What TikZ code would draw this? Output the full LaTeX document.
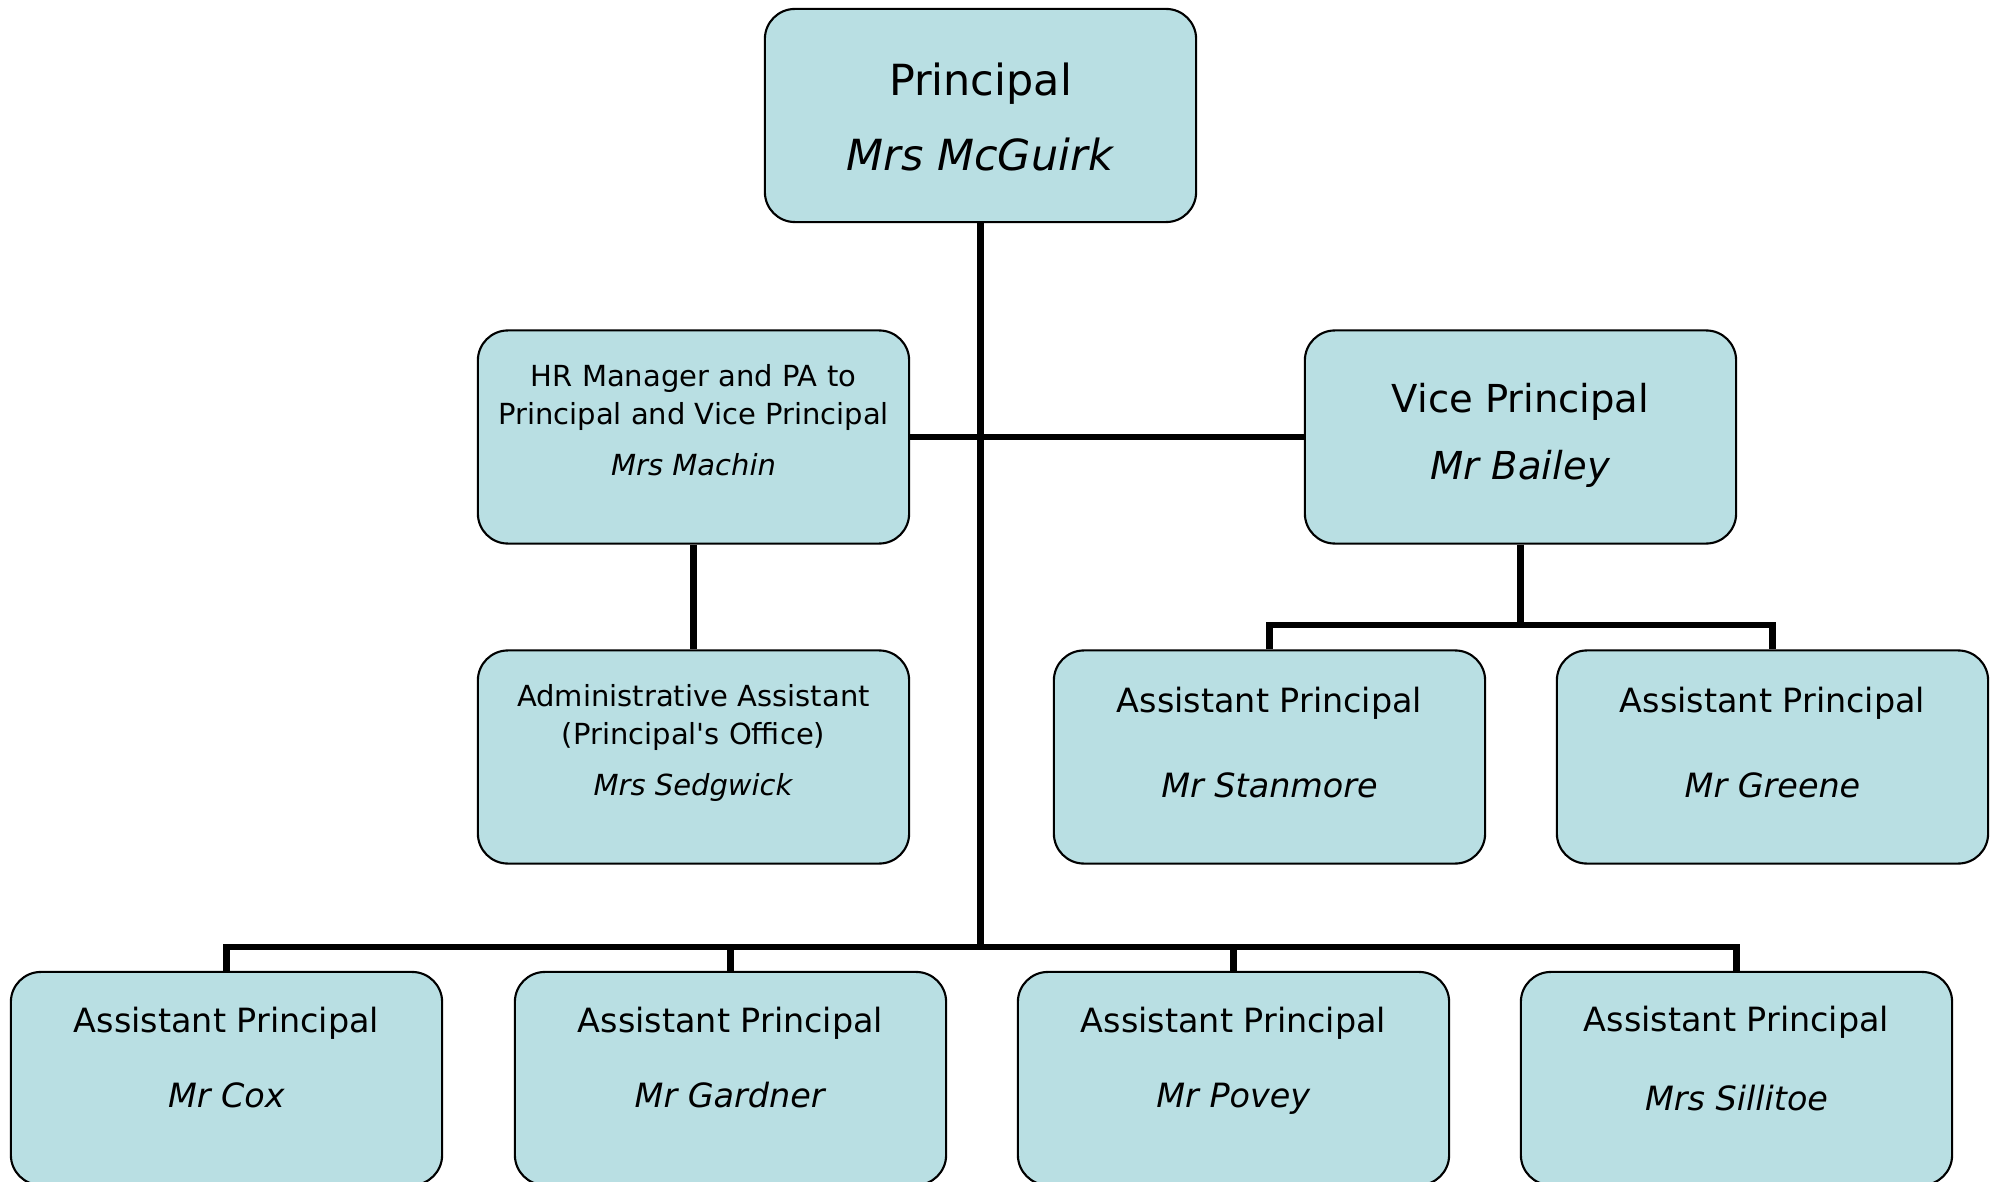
\documentclass[tikz,border=0pt]{standalone}
\usepackage{fontspec}
\setmainfont{DejaVu Sans}
\definecolor{cardfill}{RGB}{185,223,227}

\begin{document}
\begin{tikzpicture}[
      x=0.01cm, y=-0.01cm,
      card/.style={rectangle, rounded corners=0.3cm, draw, line width=0.6pt,
                   fill=cardfill, minimum width=4.31cm, inner sep=0pt, align=center},
      headcard/.style={card, font=\fontsize{12.2}{21.3}\selectfont, text height=1.61cm, text depth=0.52cm},
      vicecard/.style={card, font=\fontsize{10.95}{19.1}\selectfont, text height=1.49cm, text depth=0.64cm},
      apcard/.style={card, font=\fontsize{9.5}{24.2}\selectfont, text height=1.47cm, text depth=0.66cm},
      aplow/.style={card, font=\fontsize{9.5}{21.3}\selectfont, text height=1.35cm, text depth=0.78cm},
      staffcard/.style={card, font=\fontsize{8.25}{10.8}\selectfont, text height=1.45cm, text depth=0.68cm},
      link/.style={line width=1.8pt}
      ]
    \useasboundingbox (0,0) rectangle (1993,1182);

    \node[headcard] (principal) at (980.5,115.5) {Principal\\\textit{Mrs McGuirk}};

    \node[staffcard] (hrpa) at (693.5,437) {HR Manager and PA to\\Principal and Vice Principal\\[3.7pt]\textit{Mrs Machin}};
    \node[staffcard] (admin) at (693.5,757) {Administrative Assistant\\(Principal\textquotesingle s Office)\\[3.7pt]\textit{Mrs Sedgwick}};

    \node[vicecard] (vice) at (1520.5,437) {Vice Principal\\\textit{Mr Bailey}};
    \node[apcard] (apstan) at (1269.5,757) {Assistant Principal\\\textit{Mr Stanmore}};
    \node[apcard] (apgreene) at (1772.5,757) {Assistant Principal\\\textit{Mr Greene}};

    \node[aplow] (apcox) at (226.5,1078.5) {Assistant Principal\\\textit{Mr Cox}};
    \node[aplow] (apgard) at (730.5,1078.5) {Assistant Principal\\\textit{Mr Gardner}};
    \node[aplow] (appovey) at (1233.5,1078.5) {Assistant Principal\\\textit{Mr Povey}};
    \node[aplow, text height=1.38cm, text depth=0.75cm] (apsill) at (1736.5,1078.5) {Assistant Principal\\[1pt]\textit{Mrs Sillitoe}};

    \coordinate (lowbus) at (980.5,947);
    \coordinate (vicebus) at (1520.5,625);

    % trunk and bottom row
    \draw[link] (principal.south) -- (lowbus);
    \draw[link] (apcox.north) -- (apcox |- lowbus) -- (apsill |- lowbus) -- (apsill.north);
    \draw[link] (apgard.north) -- (apgard |- lowbus);
    \draw[link] (appovey.north) -- (appovey |- lowbus);

    % middle row
    \draw[link] (hrpa.east) -- (vice.west);
    \draw[link] (hrpa.south) -- (admin.north);
    \draw[link] (vice.south) -- (vicebus);
    \draw[link] (apstan.north) -- (apstan |- vicebus) -- (apgreene |- vicebus) -- (apgreene.north);

\end{tikzpicture}
\end{document}
